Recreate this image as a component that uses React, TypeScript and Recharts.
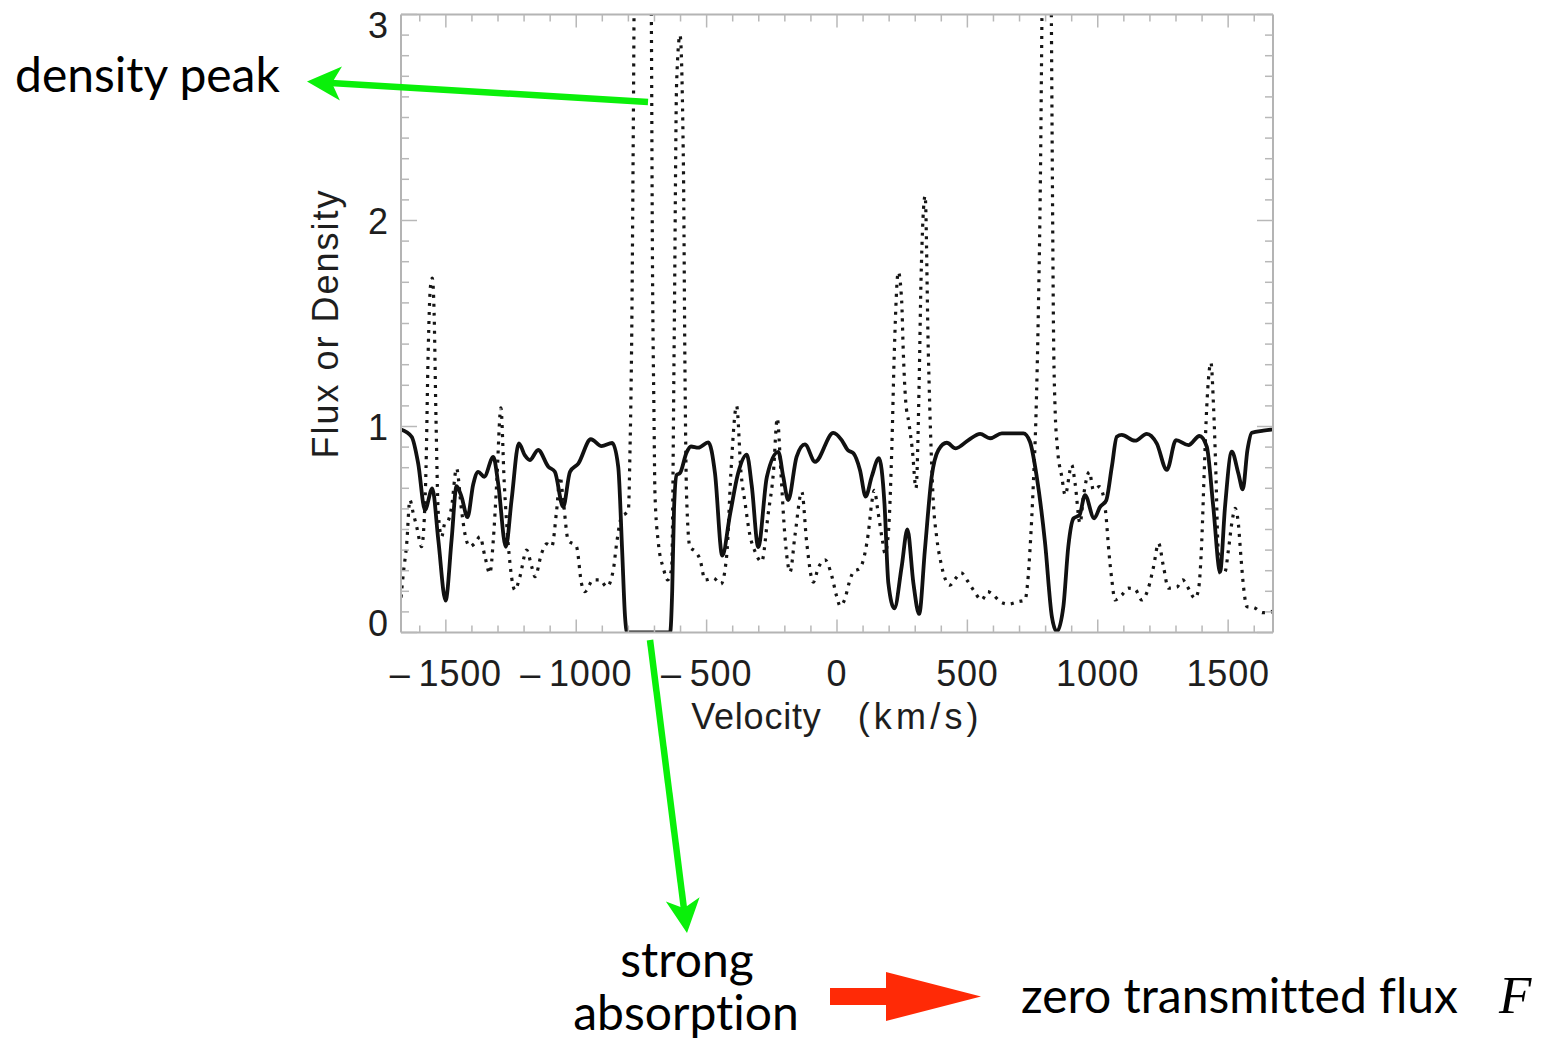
import React from 'react';
import { LineChart, Line, XAxis, YAxis, Label } from 'recharts';

// ---- data ----
const FLUX_V = [-1672, -1631, -1606, -1580, -1552, -1529, -1501, -1478, -1459, -1440, -1417, -1395, -1376, -1353, -1318, -1299, -1270, -1248, -1220, -1197, -1178, -1146, -1107, -1082, -1050, -1024, -992, -944, -903, -862, -839, -824, -813, -805, -640, -632, -625, -615, -602, -577, -560, -532, -493, -468, -440, -410, -379, -346, -327, -302, -269, -225, -206, -187, -155, -123, -84, -14, 18, 41, 63, 88, 110, 133, 161, 182, 197, 220, 248, 270, 293, 315, 337, 363, 389, 421, 455, 504, 549, 587, 632, 715, 740, 766, 798, 824, 843, 868, 887, 907, 930, 951, 986, 1009, 1032, 1054, 1073, 1092, 1143, 1188, 1226, 1265, 1300, 1348, 1390, 1418, 1443, 1469, 1488, 1514, 1539, 1556, 1574, 1591, 1635, 1672];
const FLUX = [0.985, 0.95, 0.82, 0.595, 0.7, 0.45, 0.155, 0.45, 0.71, 0.66, 0.56, 0.72, 0.78, 0.756, 0.853, 0.72, 0.416, 0.643, 0.918, 0.86, 0.837, 0.886, 0.805, 0.78, 0.61, 0.78, 0.82, 0.938, 0.905, 0.92, 0.805, 0.4, 0.08, 0, 0, 0.2, 0.6, 0.765, 0.774, 0.873, 0.903, 0.897, 0.923, 0.774, 0.373, 0.575, 0.774, 0.863, 0.713, 0.415, 0.755, 0.877, 0.755, 0.643, 0.853, 0.913, 0.829, 0.969, 0.934, 0.886, 0.87, 0.789, 0.66, 0.756, 0.846, 0.627, 0.239, 0.117, 0.32, 0.5, 0.239, 0.09, 0.4, 0.756, 0.886, 0.921, 0.894, 0.934, 0.964, 0.943, 0.967, 0.967, 0.926, 0.756, 0.433, 0.077, 0.004, 0.125, 0.417, 0.554, 0.57, 0.667, 0.554, 0.61, 0.64, 0.805, 0.95, 0.959, 0.931, 0.964, 0.918, 0.789, 0.934, 0.91, 0.954, 0.902, 0.61, 0.295, 0.61, 0.878, 0.773, 0.695, 0.886, 0.97, 0.98, 0.986];

const DENS_V = [-1672, -1663, -1650, -1638, -1625, -1612, -1593, -1583, -1576, -1568, -1559, -1552, -1545, -1538, -1529, -1516, -1504, -1493, -1478, -1459, -1440, -1427, -1408, -1389, -1369, -1350, -1331, -1318, -1305, -1289, -1276, -1260, -1235, -1216, -1190, -1171, -1158, -1133, -1113, -1094, -1075, -1062, -1050, -1031, -999, -980, -967, -935, -909, -883, -858, -845, -826, -808, -800, -794, -787, -781, -775, -760, -740, -722, -712, -708, -702, -698, -685, -666, -649, -634, -624, -615, -602, -589, -583, -577, -564, -545, -525, -506, -474, -445, -423, -407, -385, -368, -353, -334, -315, -289, -264, -244, -229, -215, -200, -180, -161, -135, -116, -91, -72, -46, -20, -1, 12, 31, 46, 63, 88, 107, 120, 133, 143, 158, 174, 184, 197, 210, 220, 235, 248, 254, 263, 276, 289, 303, 315, 322, 338, 350, 361, 369, 382, 399, 414, 433, 455, 476, 498, 523, 555, 578, 600, 625, 657, 696, 721, 731, 740, 753, 763, 772, 780, 786, 795, 805, 815, 822, 826, 830, 836, 845, 862, 875, 900, 913, 932, 945, 968, 983, 1006, 1022, 1032, 1041, 1054, 1066, 1092, 1117, 1143, 1169, 1194, 1214, 1233, 1252, 1271, 1303, 1326, 1345, 1373, 1386, 1399, 1408, 1418, 1434, 1444, 1453, 1460, 1469, 1488, 1501, 1514, 1527, 1539, 1549, 1559, 1572, 1597, 1633, 1667, 1672];
const DENS = [0.17, 0.287, 0.433, 0.643, 0.579, 0.514, 0.417, 0.546, 0.8, 1.35, 1.68, 1.72, 1.55, 1.05, 0.58, 0.465, 0.53, 0.538, 0.61, 0.797, 0.595, 0.48, 0.417, 0.433, 0.465, 0.368, 0.287, 0.449, 0.724, 1.09, 0.725, 0.417, 0.206, 0.271, 0.4, 0.32, 0.271, 0.384, 0.43, 0.417, 0.595, 0.756, 0.643, 0.449, 0.417, 0.239, 0.198, 0.255, 0.255, 0.222, 0.303, 0.433, 0.562, 0.58, 0.594, 0.873, 1.47, 2.47, 3.6, 4.5, 4.6, 4.0, 3.0, 1.87, 1.07, 0.67, 0.434, 0.313, 0.255, 0.313, 1.47, 2.67, 2.9, 2.27, 1.27, 0.67, 0.415, 0.395, 0.353, 0.255, 0.264, 0.235, 0.373, 0.774, 1.1, 0.774, 0.633, 0.473, 0.395, 0.344, 0.575, 0.774, 1.04, 0.774, 0.473, 0.294, 0.473, 0.683, 0.434, 0.244, 0.313, 0.353, 0.274, 0.174, 0.129, 0.166, 0.239, 0.295, 0.312, 0.384, 0.482, 0.627, 0.69, 0.579, 0.449, 0.384, 0.482, 0.886, 1.37, 1.75, 1.61, 1.37, 1.13, 1.015, 0.886, 0.7, 1.21, 1.7, 2.12, 1.37, 0.886, 0.643, 0.465, 0.336, 0.263, 0.23, 0.263, 0.29, 0.255, 0.206, 0.158, 0.198, 0.182, 0.15, 0.138, 0.15, 0.158, 0.24, 0.4, 0.724, 1.05, 1.55, 2.2, 3.0, 4.2, 4.6, 4.2, 3.0, 2.2, 1.5, 1.1, 0.9, 0.756, 0.667, 0.813, 0.724, 0.53, 0.66, 0.78, 0.692, 0.708, 0.66, 0.562, 0.417, 0.255, 0.158, 0.182, 0.215, 0.21, 0.158, 0.215, 0.32, 0.433, 0.32, 0.215, 0.22, 0.255, 0.22, 0.166, 0.206, 0.449, 0.773, 1.096, 1.31, 1.096, 0.773, 0.449, 0.287, 0.295, 0.4, 0.53, 0.603, 0.53, 0.368, 0.222, 0.125, 0.122, 0.096, 0.1, 0.105];

const X_DOMAIN = [-1672, 1672];
const Y_DOMAIN = [0, 3];
const X_MAJOR_STEP = 500;
const X_MINOR_STEP = 100;
const X_TICK_MIN = -1600;
const X_TICK_MAX = 1600;
const Y_MAJOR_TICKS = [0, 1, 2, 3];
const Y_MINOR_PER_UNIT = 10;

const X_TITLE_A = 'Velocity';
const X_TITLE_B = '(km/s)';
const Y_TITLE = 'Flux or Density';

const fluxData = FLUX_V.map((v, i) => ({ v, f: FLUX[i] }));
const densData = DENS_V.map((v, i) => ({ v, d: DENS[i] }));

const xTicks: number[] = [];
for (let t = X_TICK_MIN; t <= X_TICK_MAX; t += X_MINOR_STEP) xTicks.push(t);
const yTicks: number[] = [];
for (let i = 0; i <= Y_MAJOR_TICKS[Y_MAJOR_TICKS.length - 1] * Y_MINOR_PER_UNIT; i++) yTicks.push(i / Y_MINOR_PER_UNIT);

const FRAME = '#b4b4b4';
const TICK = '#b8b8b8';
const AXIS_FONT = '"Liberation Sans", Arial, Helvetica, sans-serif';
const TEXT_COL = '#1e1e1e';
const NOTE_FONT = 'Lato, "Open Sans", sans-serif';
const GREEN = '#0af00a';
const RED = '#ff2a06';

const fmtX = (v: number) => (v < 0 ? '\u2013\u2009' + Math.abs(v) : String(v));
const isMajorY = (v: number) => Math.abs(v - Math.round(v)) < 1e-6;
const yLabelShift = (v: number) => (v === 0 ? -10 : v === 3 ? 10 : 0);

const BottomTick = (p: any) => {
  const { x, y, payload } = p;
  const v = payload.value;
  const major = v % X_MAJOR_STEP === 0;
  return (
    <g>
      <line x1={x} y1={y} x2={x} y2={y - (major ? 13 : 7)} stroke={TICK} strokeWidth={1.5} />
      {major && (
        <text x={x} y={y + 53} textAnchor="middle" fontFamily={AXIS_FONT} fontSize={36} letterSpacing={0.8} fill={TEXT_COL}>
          {fmtX(v)}
        </text>
      )}
    </g>
  );
};
const TopTick = (p: any) => {
  const { x, y, payload } = p;
  const major = payload.value % X_MAJOR_STEP === 0;
  return <line x1={x} y1={y} x2={x} y2={y + (major ? 13 : 7)} stroke={TICK} strokeWidth={1.5} />;
};
const LeftTick = (p: any) => {
  const { x, y, payload } = p;
  const v = payload.value;
  const major = isMajorY(v);
  return (
    <g>
      <line x1={x} y1={y} x2={x + (major ? 16 : 8)} y2={y} stroke={TICK} strokeWidth={1.5} />
      {major && (
        <text x={x - 13} y={y + yLabelShift(Math.round(v)) + 13} textAnchor="end" fontFamily={AXIS_FONT} fontSize={36} fill={TEXT_COL}>
          {Math.round(v)}
        </text>
      )}
    </g>
  );
};
const RightTick = (p: any) => {
  const { x, y, payload } = p;
  const major = isMajorY(payload.value);
  return <line x1={x} y1={y} x2={x - (major ? 16 : 8)} y2={y} stroke={TICK} strokeWidth={1.5} />;
};

const XTitle = (p: any) => {
  const vb = p.viewBox || {};
  return (
    <text x={vb.x + vb.width / 2} y={vb.y + 96} textAnchor="middle" fontFamily={AXIS_FONT} fontSize={36} fill={TEXT_COL} style={{ whiteSpace: 'pre' }}>
      <tspan letterSpacing={0.8}>{X_TITLE_A}</tspan>
      <tspan dx={36} letterSpacing={4.2}>{X_TITLE_B}</tspan>
    </text>
  );
};
const YTitle = (p: any) => {
  const vb = p.viewBox || {};
  const cx = vb.x + vb.width - 63;
  const cy = vb.y + vb.height / 2;
  return (
    <text x={cx} y={cy} transform={`rotate(-90 ${cx} ${cy})`} textAnchor="middle" fontFamily={AXIS_FONT} fontSize={36} letterSpacing={2} fill={TEXT_COL}>
      {Y_TITLE}
    </text>
  );
};

function arrowHead(tx: number, ty: number, fx: number, fy: number, len: number, half: number, notch: number) {
  const dx = tx - fx, dy = ty - fy;
  const L = Math.hypot(dx, dy);
  const ux = dx / L, uy = dy / L;
  const nx = -uy, ny = ux;
  const bx = tx - ux * len, by = ty - uy * len;
  const mx = tx - ux * notch, my = ty - uy * notch;
  return `${tx},${ty} ${bx + nx * half},${by + ny * half} ${mx},${my} ${bx - nx * half},${by - ny * half}`;
}

const GreenArrow = ({ fx, fy, tx, ty }: any) => {
  const dx = tx - fx, dy = ty - fy;
  const L = Math.hypot(dx, dy);
  const ex = tx - (dx / L) * 24, ey = ty - (dy / L) * 24;
  return (
    <g>
      <line x1={fx} y1={fy} x2={ex} y2={ey} stroke={GREEN} strokeWidth={6.5} />
      <polygon points={arrowHead(tx, ty, fx, fy, 34, 17, 25)} fill={GREEN} />
    </g>
  );
};

const noteStyle = { fontVariantLigatures: 'none' as const, fontFeatureSettings: '"liga" 0, "dlig" 0' };

export default function App() {
  return (
    <div style={{ position: 'absolute', left: 0, top: 0, width: 1544, height: 1052, background: '#fff' }}>
      <LineChart width={1544} height={1052} margin={{ top: 13.5, right: 270, bottom: 418.5, left: 400 }}>
        <XAxis
          xAxisId="b"
          type="number"
          dataKey="v"
          domain={X_DOMAIN}
          allowDataOverflow
          ticks={xTicks}
          interval={0}
          height={1}
          tickSize={0}
          tickMargin={0}
          tickLine={false}
          axisLine={{ stroke: FRAME, strokeWidth: 2 }}
          tick={<BottomTick />}
        >
          <Label content={<XTitle />} />
        </XAxis>
        <XAxis
          xAxisId="t"
          orientation="top"
          type="number"
          dataKey="v"
          domain={X_DOMAIN}
          allowDataOverflow
          ticks={xTicks}
          interval={0}
          height={1}
          tickSize={0}
          tickMargin={0}
          tickLine={false}
          axisLine={{ stroke: FRAME, strokeWidth: 2 }}
          tick={<TopTick />}
        />
        <YAxis
          yAxisId="l"
          type="number"
          domain={Y_DOMAIN}
          allowDataOverflow
          ticks={yTicks}
          interval={0}
          width={1}
          tickSize={0}
          tickMargin={0}
          tickLine={false}
          axisLine={{ stroke: FRAME, strokeWidth: 2 }}
          tick={<LeftTick />}
        >
          <Label content={<YTitle />} />
        </YAxis>
        <YAxis
          yAxisId="r"
          orientation="right"
          type="number"
          domain={Y_DOMAIN}
          allowDataOverflow
          ticks={yTicks}
          interval={0}
          width={1}
          tickSize={0}
          tickMargin={0}
          tickLine={false}
          axisLine={{ stroke: FRAME, strokeWidth: 2 }}
          tick={<RightTick />}
        />
        <Line
          xAxisId="b"
          yAxisId="l"
          data={densData}
          dataKey="d"
          type="monotone"
          stroke="#151515"
          strokeWidth={3.2}
          strokeDasharray="3 6"
          dot={false}
          activeDot={false}
          isAnimationActive={false}
        />
        <Line
          xAxisId="b"
          yAxisId="l"
          data={fluxData}
          dataKey="f"
          type="monotone"
          stroke="#111"
          strokeWidth={3.8}
          dot={false}
          activeDot={false}
          isAnimationActive={false}
        />
      </LineChart>
      <svg width={1544} height={1052} style={{ position: 'absolute', left: 0, top: 0, pointerEvents: 'none' }}>
        <GreenArrow fx={648} fy={102} tx={307} ty={81.5} />
        <GreenArrow fx={650} fy={640} tx={687} ty={933} />
        <polygon points="830,988 886,988 886,972 981,996.5 886,1021 886,1005 830,1005" fill={RED} />
        <text x={15} y={92} fontFamily={NOTE_FONT} fontSize={48} fill="#000" style={noteStyle}>density peak</text>
        <text x={687} y={977} textAnchor="middle" fontFamily={NOTE_FONT} fontSize={48} fill="#000" style={noteStyle}>strong</text>
        <text x={686} y={1030} textAnchor="middle" fontFamily={NOTE_FONT} fontSize={48} fill="#000" style={noteStyle}>absorption</text>
        <text x={1021} y={1013} fontFamily={NOTE_FONT} fontSize={48} fill="#000" style={noteStyle}>zero transmitted flux</text>
        <text x={1499} y={1013} fontFamily='"Liberation Serif", "DejaVu Serif", serif' fontStyle="italic" fontSize={53} fill="#000">F</text>
      </svg>
    </div>
  );
}
